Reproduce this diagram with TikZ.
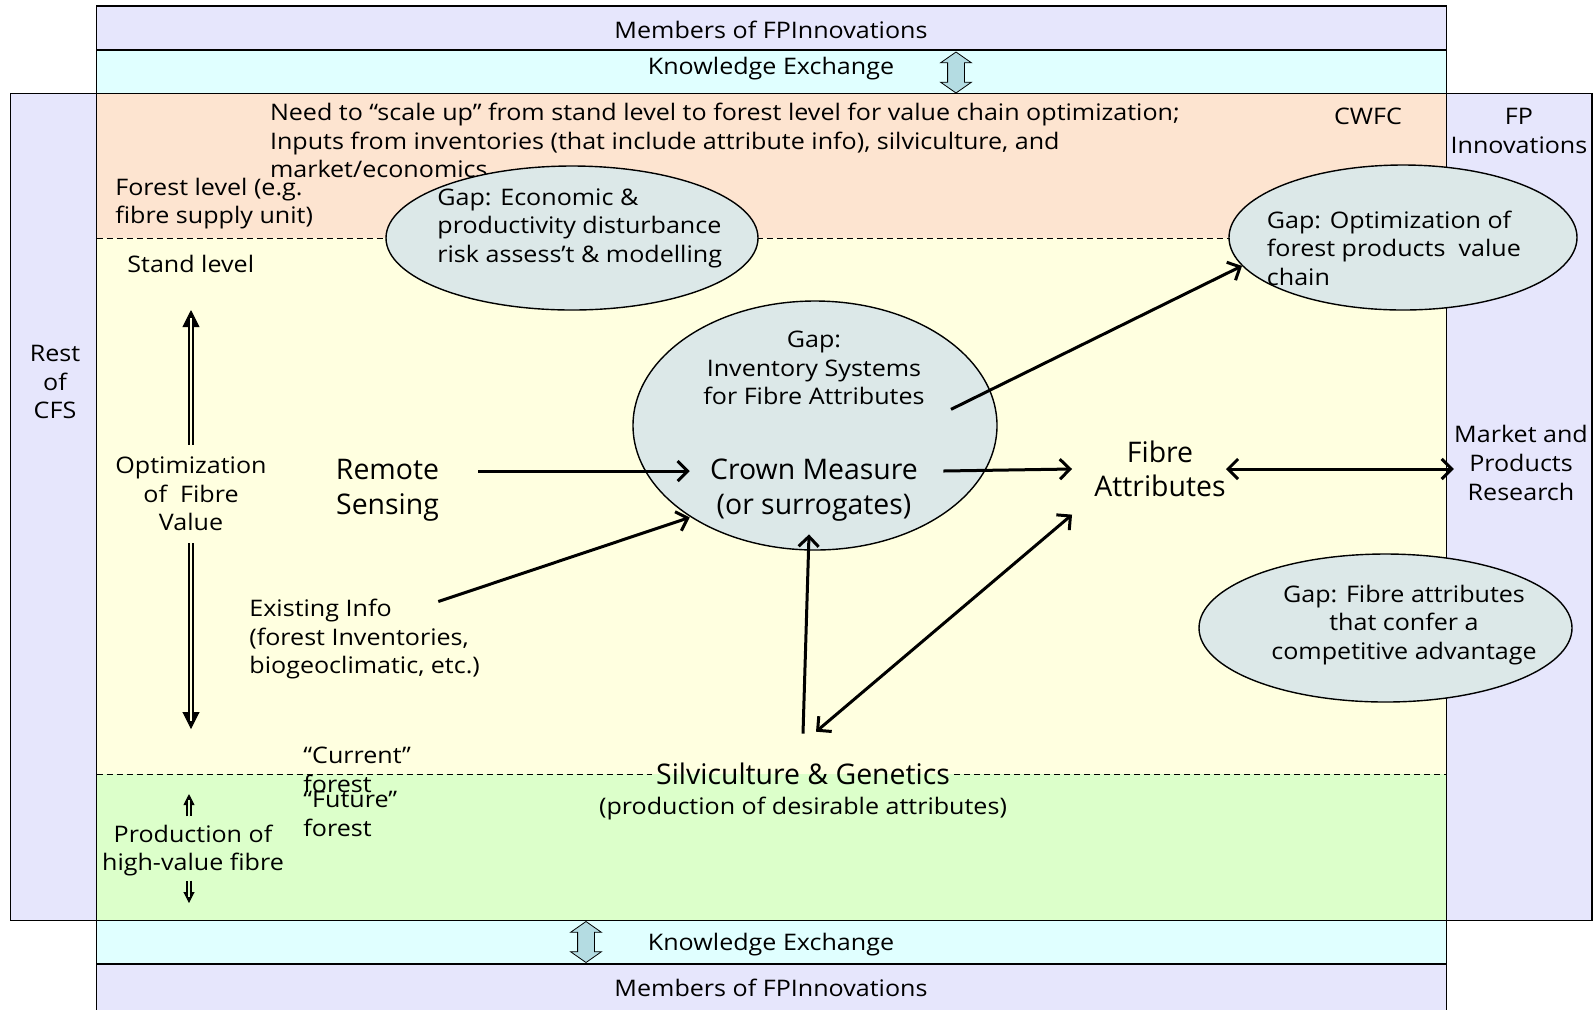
\documentclass[tikz,border=0pt]{standalone}
\usepackage{fontspec}
\setmainfont{Open Sans}[FakeStretch=1.1]
\newfontfamily\bigfam{Open Sans}
\usetikzlibrary{positioning,shapes.geometric,shapes.arrows,arrows.meta}
\definecolor{lavender}{RGB}{230,230,252}
\definecolor{xcyan}{RGB}{224,255,255}
\definecolor{peach}{RGB}{253,228,208}
\definecolor{bgyellow}{RGB}{255,255,224}
\definecolor{bggreen}{RGB}{220,255,202}
\definecolor{gapfill}{RGB}{220,232,232}
\definecolor{xarrow}{RGB}{180,220,226}
\newcommand{\smallfont}{\fontsize{11.4}{14.3}\selectfont}
\newcommand{\bigfont}{\bigfam\fontsize{14.2}{17.3}\selectfont}
\tikzset{
  band/.style={draw, line width=0.7pt},
  txt/.style={font=\smallfont, inner sep=0pt, align=left},
  ctxt/.style={font=\smallfont, inner sep=0pt, align=center},
  bigtxt/.style={font=\bigfont, inner sep=0pt, align=center},
  gap/.style={ellipse, draw, fill=gapfill, line width=0.7pt, inner sep=0pt},
  xchg/.style={double arrow, draw, fill=xarrow, rotate=90, inner sep=4pt,
    minimum width=15pt, minimum height=20.5pt,
    double arrow head extend=3.5pt, double arrow tip angle=110},
  level/.style={dash pattern=on 3pt off 2pt, line width=0.5pt},
  flow/.style={-{Straight Barb[length=5pt,width=10pt]}, line width=1.5pt},
  flowboth/.style={{Straight Barb[length=5pt,width=10pt]}-{Straight Barb[length=5pt,width=10pt]}, line width=1.5pt},
  tipline/.style={-{Triangle[length=#1,width=#1]}, line width=0.5pt},
  dblshaft/.style={double=#1, double distance=1.4pt, line width=0.6pt, shorten >=4pt}
}

\begin{document}
\begin{tikzpicture}[x=0.5pt, y=-0.5pt]
  \useasboundingbox (0,0) rectangle (1595,1009);
  % frames and bands
  \draw[band, fill=lavender] (96.6,6.1) rectangle (1446.5,49.8);
  \draw[band, fill=xcyan] (96.6,49.8) rectangle (1446.5,93.6);
  \draw[band, fill=lavender] (10.2,93.6) rectangle (96.6,920.6);
  \draw[band, fill=lavender] (1446.5,93.6) rectangle (1592,920.6);
  \fill[peach] (96.6,93.6) rectangle (1446.5,238);
  \fill[bgyellow] (96.6,238) rectangle (1446.5,774);
  \fill[bggreen] (96.6,774) rectangle (1446.5,920.6);
  \draw[band] (96.6,93.6) rectangle (1446.5,920.6);
  \draw[band, fill=xcyan] (96.6,920.6) rectangle (1446.5,964);
  \draw[band, fill=lavender] (96.6,964) rectangle (1446.5,1015);
  \draw[level] (96.6,238) -- (1446.5,238);

  % band texts
  \node[ctxt] (memtop) at (771,29.5) {Members of FPInnovations};
  \node[ctxt] (kxtop) at (771,69) {Knowledge Exchange};
  \node[ctxt] (kxbot) at (771,945) {Knowledge Exchange};
  \node[ctxt] (membot) at (771,988) {Members of FPInnovations};
  \node[xchg] (xtop) at (956,72.5) {};
  \node[xchg] (xbot) at (586,942) {};
  \node[ctxt] (rest) at (55,382) {Rest\\of\\CFS};
  \node[ctxt] (fpinno) at (1519,131) {FP\\Innovations};
  \node[ctxt] (market) at (1521,463) {Market and\\Products\\Research};
  \node[ctxt] (cwfc) at (1368,116) {CWFC};

  % level texts
  \node[txt, anchor=west] (need) at (269.6,140.4) {Need to “scale up” from stand level to forest level for value chain optimization;\\Inputs from inventories (that include attribute info), silviculture, and\\market/economics};
  \node[txt, anchor=west] (forest) at (115,203.5) {Forest level (e.g.\\fibre supply unit)};
  \node[txt, anchor=west] (stand) at (127,263.5) {Stand level};
  \node[ctxt] (opt) at (191,494) {Optimization\\of~~Fibre\\Value};
  \node[txt, anchor=west] (exist) at (249,639) {Existing Info\\(forest Inventories,\\biogeoclimatic, etc.)};
  \node[txt, anchor=west] (current) at (303,770) {“Current”\\forest};
  \node[txt, anchor=west] (future) at (303,814) {“Future”\\forest};
  \node[ctxt] (prod) at (193,850.5) {Production of\\high-value fibre};
  \node[bigtxt] (silv) at (803,774) {Silviculture \& Genetics};
  \node[ctxt] (silvsub) at (803,808) {(production of desirable attributes)};
  \draw[level, shorten >=2pt] (96.6,774) -- (silv.west);
  \draw[level, shorten <=2pt] (silv.east) -- (1446.5,774);
  \node[bigtxt] (remote) at (387.5,490) {Remote\\Sensing};
  \node[bigtxt] (fibre) at (1160,469) {Fibre\\Attributes};

  % gaps
  \node[gap, minimum width=186pt, minimum height=72pt] (gapeco) at (572,238) {};
  \node[gap, minimum width=174pt, minimum height=72.5pt] (gapopt) at (1403,237.5) {};
  \node[gap, minimum width=182pt, minimum height=124.5pt] (crown) at (815,425.5) {};
  \node[gap, minimum width=186.5pt, minimum height=74pt] (gapfib) at (1385.5,628) {};
  \node[txt, anchor=west] (gapecotxt) at (437,228) {Gap: Economic \&\\productivity disturbance\\risk assess’t \& modelling};
  \node[txt, anchor=west] (gapopttxt) at (1266.5,248) {Gap: Optimization of\\forest products~~value\\chain};
  \node[ctxt] (gaptxt) at (814,368) {Gap:\\Inventory Systems\\for Fibre Attributes};
  \node[bigtxt] (crowntxt) at (814,490) {Crown Measure\\(or surrogates)};
  \node[ctxt] (gapfibtxt) at (1404,625) {Gap: Fibre attributes\\that confer a\\competitive advantage};

  % fibre value arrows
  \coordinate (optTop) at (191,310);
  \coordinate (optBot) at (191,729);
  \coordinate (prodTop) at (189,794);
  \coordinate (prodBot) at (189,903);
  \draw[tipline=8.5pt, shorten <=6pt] (opt.north) -- (optTop);
  \draw[dblshaft=bgyellow, shorten <=6pt] (opt.north) -- (optTop);
  \draw[tipline=8.5pt, shorten <=6pt] (opt.south) -- (optBot);
  \draw[dblshaft=bgyellow, shorten <=6pt] (opt.south) -- (optBot);
  \draw[tipline=5.5pt, shorten <=4pt] (prod.north -| prodTop) -- (prodTop);
  \draw[dblshaft=bggreen, shorten <=4pt, shorten >=3pt] (prod.north -| prodTop) -- (prodTop);
  \draw[tipline=5.5pt, shorten <=2pt] (prod.south -| prodBot) -- (prodBot);
  \draw[dblshaft=bggreen, shorten <=2pt, shorten >=3pt] (prod.south -| prodBot) -- (prodBot);

  % flows
  \draw[flow] ([shift={(39,-19)}]remote.east) -- ([shift={(-20,-19)}]crowntxt.west);
  \draw[flow] ([shift={(-42,3)}]exist.north east) -- ([shift={(-20,-4)}]crowntxt.south west);
  \draw[flow] ([shift={(25,-19)}]crowntxt.east) -- ([shift={(-22,0)}]fibre.west);
  \draw[flow] ([shift={(26,4)}]gaptxt.south east) -- (gapopt.190);
  \draw[flowboth] (fibre.east) -- (fibre.east -| market.west);
  \draw[flow] ([shift={(0,-29)}]silv.north) -- ([shift={(-5,13)}]crowntxt.south);
  \draw[flowboth] ([shift={(13,-31)}]silv.north) -- ([shift={(-22,17)}]fibre.south west);
\end{tikzpicture}
\end{document}
